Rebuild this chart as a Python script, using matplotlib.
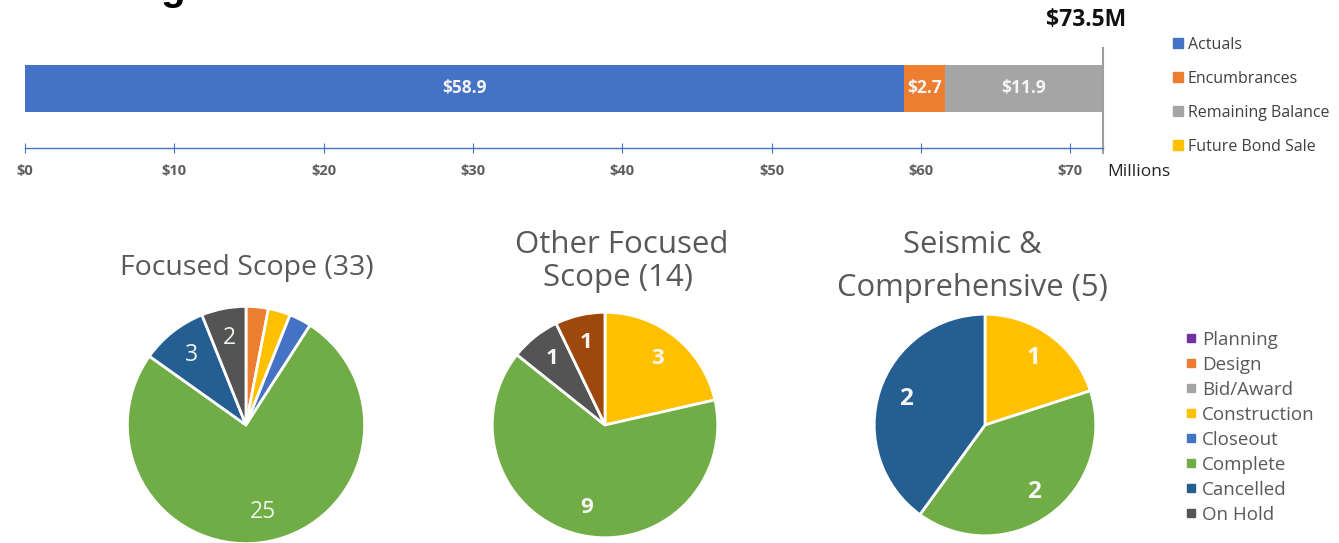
import matplotlib
matplotlib.use('agg')
import matplotlib.pyplot as plt
import numpy as np
from matplotlib.lines import Line2D

# Budget bar (millions)
bar_names = ['Actuals', 'Encumbrances', 'Remaining Balance', 'Future Bond Sale']
bar_values = [58.9, 2.7, 11.9, 0.0]
bar_colors = ['#4472C4', '#ED7D31', '#A5A5A5', '#FFC000']
axis_max = 72.2
xticks = [0, 10, 20, 30, 40, 50, 60, 70]

# Project status categories
status_names = ['Planning', 'Design', 'Bid/Award', 'Construction', 'Closeout',
                'Complete', 'Cancelled', 'On Hold']
status_colors = ['#7030A0', '#ED7D31', '#A5A5A5', '#FFC000', '#4472C4',
                 '#70AD47', '#255E91', '#545454']
extra_color = '#9E480E'  # unlabeled 9th category in the middle pie

pie_titles = [['Focused Scope (33)'], ['Other Focused', 'Scope (14)'],
              ['Seismic &', 'Comprehensive (5)']]
# counts per status (+ unlabeled extra)
focused = [0, 1, 0, 1, 1, 25, 3, 2, 0]
other_focused = [0, 0, 0, 3, 0, 9, 0, 1, 1]
seismic = [0, 0, 0, 1, 0, 2, 2, 0, 0]
pie_data = [focused, other_focused, seismic]
pie_show_min = [2, 1, 1]  # smallest count that gets a label

W, H = 1339, 543
fig = plt.figure(figsize=(W / 100, H / 100), dpi=100)
plt.rcParams['font.family'] = ['Open Sans', 'DejaVu Sans']


def fx(px):
    return px / W


def fy(py):
    return 1 - py / H


# cut-off title at the very top
fig.text(fx(27), 1.0, 'Funding', fontsize=29, fontweight='bold',
         family='Liberation Sans', va='baseline', ha='left')

# ---------------- bar ----------------
ax = fig.add_axes([fx(25), fy(148), fx(1103) - fx(25), fy(45) - fy(148)])
ax.set_xlim(0, axis_max)
ax.set_ylim(0, 1)
left = 0
for name, val, col in zip(bar_names, bar_values, bar_colors):
    if val > 0:
        ax.barh(0.578, val, left=left, height=0.456, color=col, edgecolor='none')
        vis_end = min(left + val, axis_max)
        ax.text((left + vis_end) / 2, 0.578, f'${val:.1f}', color='#F5F5F5',
                fontsize=12.5, fontweight='bold', ha='center', va='center')
    left += val
for s in ['top', 'right', 'left']:
    ax.spines[s].set_visible(False)
ax.spines['bottom'].set_color('#4472C4')
ax.spines['bottom'].set_linewidth(1)
ax.set_yticks([])
ax.set_xticks(xticks)
ax.set_xticklabels([f'${t}' for t in xticks], fontsize=10.5, fontweight='bold', color='#5F5F5F')
ax.tick_params(axis='x', direction='inout', length=7, color='#4472C4', pad=8)
ax.axvline(axis_max, ymin=-0.05, ymax=0.97, color='#A0A0A0', lw=1.5, clip_on=False)

fig.text(fx(1086), fy(20), f'${sum(bar_values):.1f}M', fontsize=16.5, fontweight='bold',
         ha='center', va='center', color='#111111')
fig.text(fx(1107), fy(172), 'Millions', fontsize=12.5, ha='left', va='center', color='#222222')

bar_handles = [Line2D([], [], marker='s', ls='none', color=c, markersize=7.5) for c in bar_colors]
fig.legend(bar_handles, bar_names, loc='upper left', bbox_to_anchor=(fx(1172), fy(37)),
           frameon=False, fontsize=11.5, labelcolor='#404040', handlelength=0.7,
           handletextpad=0.3, labelspacing=1.12, borderaxespad=0, borderpad=0)

# ---------------- pies ----------------
pie_geo = [(246, 425, 121), (605, 425, 115), (985, 425, 113)]
title_lines = [[(247, 275)], [(622, 253), (618, 286)], [(972, 253), (972, 296)]]
title_size = [20.5, 22.5, 22.3]
label_style = [dict(fontsize=16.5, fontweight='normal', color='#EEF5E8'),
               dict(fontsize=16, fontweight='bold', color='#F6F6F0'),
               dict(fontsize=17.5, fontweight='bold', color='#F8F8F8')]
all_colors = status_colors + [extra_color]

for i, counts in enumerate(pie_data):
    cx, cy, r = pie_geo[i]
    pax = fig.add_axes([fx(cx - r), fy(cy + r), 2 * r / W, 2 * r / H])
    vals = [c for c in counts if c > 0]
    cols = [all_colors[k] for k, c in enumerate(counts) if c > 0]
    labs = [str(c) if c >= pie_show_min[i] else '' for c in vals]
    wedges, texts = pax.pie(vals, colors=cols, startangle=90, counterclock=False,
                            labels=labs, labeldistance=0.75,
                            wedgeprops=dict(edgecolor='white', linewidth=2),
                            textprops=dict(ha='center', va='center', **label_style[i]))
    pax.set_xlim(-1.02, 1.02)
    pax.set_ylim(-1.02, 1.02)
    pax.set_aspect('equal')
    for line, (tx, ty) in zip(pie_titles[i], title_lines[i]):
        fig.text(fx(tx), fy(ty), line, fontsize=title_size[i], color='#595959',
                 ha='center', va='baseline')

status_handles = [Line2D([], [], marker='s', ls='none', color=c, markersize=5.5) for c in status_colors]
fig.legend(status_handles, status_names, loc='upper left', bbox_to_anchor=(fx(1186), fy(331)),
           frameon=False, fontsize=13.5, labelcolor='#595959', handlelength=0.5,
           handletextpad=0.35, labelspacing=0.37, borderaxespad=0, borderpad=0)

fig.savefig('out.png', dpi=100)
